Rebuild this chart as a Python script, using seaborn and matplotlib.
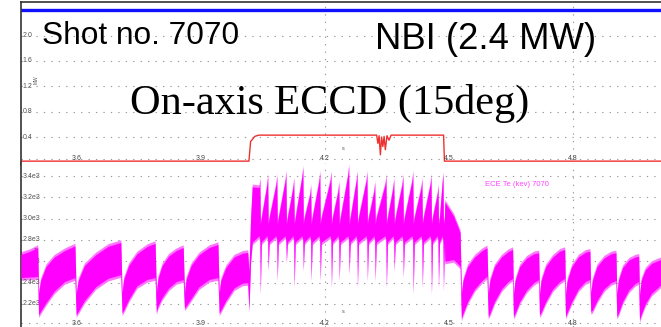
import numpy as np
import pandas as pd
import matplotlib
matplotlib.use("Agg")
import matplotlib.pyplot as plt
import seaborn as sns
from matplotlib.transforms import blended_transform_factory as btf

sns.set_style("white")
plt.rcParams['font.family'] = ['Liberation Sans', 'DejaVu Sans']

# ---------------- data ----------------
x_ticks = [3.6, 3.9, 4.2, 4.5, 4.8]
x_tick_labels = ['3.6', '3.9', '4.2', '4.5', '4.8']
v_grid = [4.2, 4.8]

top_yticks = [0.4, 0.8, 1.2, 1.6, 2.0]
top_ytick_labels = ['0.4', '0.8', '1.2', '1.6', '2.0']
bot_yticks = [2200, 2400, 2600, 2800, 3000, 3200, 3400]
bot_ytick_labels = ['2.2e3', '2.4e3', '2.6e3', '2.8e3', '3.0e3', '3.2e3', '3.4e3']

# NBI power (MW)
nbi_t = [3.464, 5.013]
nbi_mw = [2.40, 2.40]

# ECCD power (MW)
eccd_t = [3.464, 4.016, 4.020, 4.024, 4.030, 4.040, 4.140, 4.325, 4.328, 4.331,
          4.334, 4.337, 4.340, 4.343, 4.346, 4.350, 4.355, 4.360, 4.400, 4.487,
          4.489, 5.013]
eccd_mw = [0.02, 0.02, 0.33, 0.36, 0.41, 0.43, 0.43, 0.43, 0.30, 0.42,
           0.12, 0.40, 0.25, 0.41, 0.20, 0.42, 0.35, 0.43, 0.43, 0.43,
           0.02, 0.02]

# ECE Te envelope, ohmic/NBI phases (time, upper, lower)
pre_t = [3.464, 3.485, 3.505, 3.507, 3.512, 3.525, 3.545, 3.570, 3.595, 3.598,
         3.603, 3.618, 3.645, 3.675, 3.706, 3.709, 3.713, 3.725, 3.745, 3.770,
         3.789, 3.792, 3.796, 3.806, 3.822, 3.840, 3.857, 3.860, 3.864, 3.876,
         3.895, 3.920, 3.941, 3.944, 3.948, 3.960, 3.980, 4.000, 4.013, 4.016,
         4.020, 4.024]
pre_hi = [2664, 2692, 2730, 2300, 2420, 2551, 2640, 2700, 2745, 2290,
          2420, 2560, 2660, 2740, 2777, 2300, 2430, 2560, 2670, 2740,
          2768, 2300, 2440, 2560, 2650, 2700, 2730, 2300, 2430, 2560,
          2660, 2730, 2758, 2300, 2420, 2540, 2640, 2675, 2683, 2500,
          3000, 3300]
pre_lo = [2447, 2452, 2457, 2098, 2130, 2211, 2320, 2410, 2447, 2098,
          2130, 2230, 2360, 2440, 2475, 2117, 2140, 2240, 2370, 2430,
          2447, 2126, 2180, 2260, 2350, 2410, 2428, 2164, 2180, 2250,
          2360, 2430, 2447, 2117, 2140, 2230, 2350, 2395, 2400, 2145,
          2600, 2780]

# ECCD phase: sawtooth crash times, peak before crash, dip at crash
eccd_crash_t = [4.043, 4.062, 4.084, 4.106, 4.125, 4.147, 4.166, 4.188, 4.215, 4.234,
                4.258, 4.278, 4.302, 4.321, 4.348, 4.367, 4.389, 4.413, 4.435, 4.457,
                4.474, 4.486]
eccd_peak = [3372, 3403, 3403, 3435, 3372, 3482, 3309, 3435, 3435, 3340,
             3497, 3435, 3435, 3340, 3403, 3372, 3403, 3435, 3372, 3403,
             3309, 3420]
eccd_dip = [2303, 2523, 2428, 2600, 2365, 2523, 2428, 2428, 2365, 2428,
            2491, 2365, 2428, 2428, 2365, 2523, 2460, 2303, 2365, 2303,
            2365, 2334]
eccd_post_hi = [2950] * 22
eccd_core_lo = [2800] * 22

post_t = [4.490, 4.511, 4.527, 4.530, 4.534, 4.545, 4.562, 4.580, 4.592, 4.595,
          4.599, 4.610, 4.627, 4.643, 4.654, 4.656, 4.660, 4.671, 4.688, 4.705,
          4.717, 4.719, 4.723, 4.734, 4.751, 4.768, 4.780, 4.782, 4.786, 4.797,
          4.813, 4.830, 4.841, 4.843, 4.847, 4.858, 4.875, 4.892, 4.904, 4.906,
          4.910, 4.920, 4.935, 4.950, 4.959, 4.961, 4.965, 4.975, 4.990, 5.013]
post_hi = [3155, 3026, 2869, 2300, 2420, 2550, 2640, 2700, 2727, 2290,
           2420, 2550, 2640, 2690, 2711, 2290, 2420, 2550, 2630, 2670,
           2680, 2290, 2420, 2550, 2640, 2695, 2711, 2290, 2420, 2550,
           2640, 2685, 2695, 2300, 2420, 2550, 2630, 2670, 2680, 2290,
           2420, 2540, 2610, 2640, 2648, 2280, 2420, 2520, 2580, 2617]
post_lo = [2600, 2617, 2554, 2067, 2110, 2220, 2340, 2420, 2460, 2083,
           2110, 2220, 2340, 2410, 2440, 2083, 2110, 2220, 2330, 2400,
           2428, 2098, 2120, 2220, 2340, 2410, 2440, 2083, 2120, 2220,
           2340, 2410, 2430, 2130, 2140, 2230, 2340, 2400, 2420, 2083,
           2110, 2220, 2330, 2390, 2410, 2051, 2100, 2200, 2300, 2380]

# ---------------- assemble ECE envelope ----------------
te_t, te_hi, te_lo = list(pre_t), list(pre_hi), list(pre_lo)
for c, pk, dp, ph, cl in zip(eccd_crash_t, eccd_peak, eccd_dip, eccd_post_hi, eccd_core_lo):
    te_t += [c - 0.0025, c - 0.0006, c + 0.0006, c + 0.003]
    te_hi += [pk - 80, pk, ph, ph + 60]
    te_lo += [cl + 40, cl, dp, cl - 20]
te_t += post_t
te_hi += post_hi
te_lo += post_lo
te = pd.DataFrame({'t': te_t, 'hi': te_hi, 'lo': te_lo})

nbi = pd.DataFrame({'t': nbi_t, 'P': nbi_mw})
eccd = pd.DataFrame({'t': eccd_t, 'P': eccd_mw})

# ---------------- figure ----------------
W, H = 661, 327
fig = plt.figure(figsize=(W / 100, H / 100), dpi=100)
ax1 = fig.add_axes([21 / W, 1 - 164 / H, 1 - 21 / W, 162 / H])
ax2 = fig.add_axes([21 / W, 0, 1 - 21 / W, 164 / H])

xlim = (3.4645, 5.013)
grid_kw = dict(color='#9a9a9a', lw=0.8, ls=(0, (1.2, 5.5)), zorder=0)

for ax in (ax1, ax2):
    ax.set_xlim(*xlim)
    ax.set_xticks([])
    ax.set_yticks([])
    for s in ax.spines.values():
        s.set_visible(False)
    ax.spines['left'].set_visible(True)
    ax.spines['left'].set_color('#333333')
    ax.spines['left'].set_linewidth(1.2)
    for xv in v_grid:
        ax.axvline(xv, **grid_kw)

# ---- top panel ----
ax1.set_ylim(-0.025, 2.528)
ax1.spines['top'].set_visible(True)
ax1.spines['top'].set_color('#333333')
ax1.spines['top'].set_linewidth(1.2)
for yv, lab in zip(top_yticks, top_ytick_labels):
    ax1.axhline(yv, **grid_kw)
    ax1.text(0.003, yv, lab, transform=btf(ax1.transAxes, ax1.transData),
             fontsize=5, color='#555555', ha='left', va='center')
ax1.axhline(0.055, **grid_kw)
for xv, lab in zip(x_ticks, x_tick_labels):
    ax1.text(xv, 0.055, lab, fontsize=5, color='#444444', ha='center', va='center')
ax1.text(4.244, 0.22, 's', fontsize=4, color='#555555', ha='center', va='center')
ax1.text(0.024, 1.3, 'MW', transform=btf(ax1.transAxes, ax1.transData),
         fontsize=3.5, color='#555555', rotation=90, ha='center', va='center')

sns.lineplot(data=nbi, x='t', y='P', ax=ax1, color='#1010ff', lw=2.4, legend=False)
sns.lineplot(data=eccd, x='t', y='P', ax=ax1, color='#f03030', lw=1.0, legend=False)
ax1.set_xlabel('')
ax1.set_ylabel('')
ax1.axhline(-0.025, color='#333333', lw=2.0, clip_on=False)

# ---- bottom panel ----
ax2.set_ylim(1983, 3523)
for yv, lab in zip(bot_yticks, bot_ytick_labels):
    ax2.axhline(yv, **grid_kw)
    ax2.text(0.003, yv, lab, transform=btf(ax2.transAxes, ax2.transData),
             fontsize=5, color='#555555', ha='left', va='center')
ax2.axhline(2020, **grid_kw)
for xv, lab in zip(x_ticks, x_tick_labels):
    ax2.text(xv, 2020, lab, fontsize=5, color='#444444', ha='center', va='center')
ax2.text(4.244, 2130, 's', fontsize=4, color='#555555', ha='center', va='center')
ax2.text(0.024, 2700, 'Te', transform=btf(ax2.transAxes, ax2.transData),
         fontsize=3.5, color='#555555', ha='center', va='center')

ax2.fill_between(te['t'], te['lo'] - 25, te['hi'] + 25, color='#ff77ff', lw=0, zorder=2)
ax2.fill_between(te['t'], te['lo'], te['hi'], color='#ff00ff', lw=0, zorder=3)
ax2.text(4.587, 3324, 'ECE Te (kev) 7070', fontsize=5.5, color='#ff44ff',
         ha='left', va='center')

# ---- annotations ----
fig.text(42 / W, 1 - 44 / H, 'Shot no. 7070', fontsize=22.8, color='black',
         ha='left', va='baseline', family=['Liberation Sans'])
fig.text(375 / W, 1 - 49 / H, 'NBI (2.4 MW)', fontsize=26.3, color='black',
         ha='left', va='baseline', family=['Liberation Sans'])
fig.text(130 / W, 1 - 114 / H, 'On-axis ECCD (15deg)', fontsize=30.4, color='black',
         ha='left', va='baseline', family=['Liberation Serif'])

fig.savefig('out.png', dpi=100)
